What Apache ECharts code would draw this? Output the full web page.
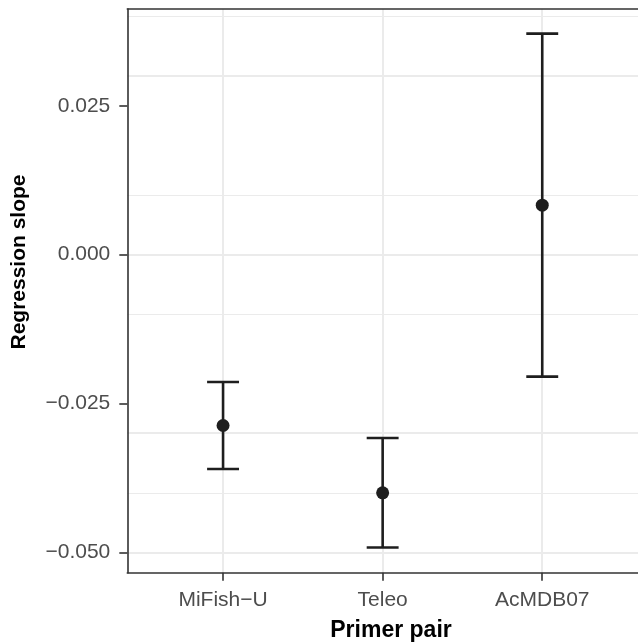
<!DOCTYPE html>
<html><head><meta charset="utf-8">
<script src="https://cdn.jsdelivr.net/npm/echarts@6/dist/echarts.min.js"></script>
<style>html,body{margin:0;padding:0;background:#fff}#c{width:638px;height:644px}</style>
</head><body><div id="c"></div>
<script>
// ---- data ----
const categories = ['MiFish\u2212U', 'Teleo', 'AcMDB07'];
const xPositions = [1, 2, 3];
const estimate = [-0.0287, -0.0400, 0.0083];
const lower = [-0.0360, -0.0492, -0.0205];
const upper = [-0.0214, -0.0308, 0.0371];
const yTicks = [-0.05, -0.025, 0, 0.025];
const yMinor = [-0.0375, -0.0125, 0.0125, 0.0375];
const yRange = [-0.05342, 0.04124];
const xRange = [0.4, 3.6];
const xTitle = 'Primer pair';
const yTitle = 'Regression slope';

const FONT = "'Liberation Sans', Arial, Helvetica, sans-serif";
const chart = echarts.init(document.getElementById('c'), null, {renderer: 'canvas'});

const fmtY = v => {
  const s = Math.abs(v).toFixed(3);
  return (v < -1e-9 ? '\u2212' : '') + s;
};
const fmtX = v => {
  const i = xPositions.indexOf(Math.round(v));
  return i >= 0 ? categories[i] : '';
};

const errData = xPositions.map((x, i) => [x, lower[i], upper[i]]);
const ptData = xPositions.map((x, i) => [x, estimate[i]]);

const gridLines = [].concat(
  xPositions.map(v => ({xAxis: v, lineStyle: {width: 2}})),
  yTicks.map(v => ({yAxis: v, lineStyle: {width: 2}})),
  yMinor.map(v => ({yAxis: v, lineStyle: {width: 1}}))
);

chart.setOption({
  animation: false,
  backgroundColor: '#ffffff',
  grid: {left: 127.3, top: 9, width: 515.7, height: 563.7, containLabel: false},
  xAxis: [{
    type: 'value', min: xRange[0], max: xRange[1], position: 'bottom', z: 5,
    axisLine: {show: true, onZero: false, lineStyle: {color: '#333333', width: 1.6}},
    axisTick: {show: true, length: 8, customValues: xPositions, lineStyle: {color: '#333333', width: 1.6}},
    axisLabel: {show: true, customValues: xPositions, formatter: fmtX, margin: 17,
      color: '#4D4D4D', fontSize: 21, fontFamily: FONT},
    splitLine: {show: false}
  }, {
    type: 'value', min: xRange[0], max: xRange[1], position: 'top', z: 5,
    axisLine: {show: true, onZero: false, lineStyle: {color: '#333333', width: 1.6}},
    axisTick: {show: false}, axisLabel: {show: false}, splitLine: {show: false}
  }],
  yAxis: {
    type: 'value', min: yRange[0], max: yRange[1], z: 5,
    axisLine: {show: true, onZero: false, lineStyle: {color: '#333333', width: 1.6}},
    axisTick: {show: true, length: 8, customValues: yTicks, lineStyle: {color: '#333333', width: 1.6}},
    axisLabel: {show: true, customValues: yTicks, formatter: fmtY, margin: 17,
      color: '#4D4D4D', fontSize: 21, fontFamily: FONT},
    splitLine: {show: false}
  },
  graphic: [
    {type: 'text', x: 391, y: 631, z: 10,
      style: {text: xTitle, font: 'bold 23px ' + FONT, fill: '#000000', textAlign: 'center', textVerticalAlign: 'middle'}},
    {type: 'text', x: 19, y: 262, rotation: Math.PI / 2, z: 10,
      style: {text: yTitle, font: 'bold 21px ' + FONT, fill: '#000000', textAlign: 'center', textVerticalAlign: 'middle'}}
  ],
  series: [
    {
      type: 'line', data: [], z: 1, silent: true,
      markLine: {
        silent: true, symbol: ['none', 'none'], animation: false, z: 1,
        label: {show: false},
        lineStyle: {color: '#EBEBEB', type: 'solid', width: 2},
        emphasis: {disabled: true},
        data: gridLines
      }
    },
    {
      type: 'custom', z: 3, silent: true,
      data: errData,
      renderItem: (params, api) => {
        const x = api.value(0), lo = api.value(1), hi = api.value(2);
        const pLo = api.coord([x, lo]);
        const pHi = api.coord([x, hi]);
        const hw = api.size([0.2, 0])[0] / 2;
        const st = {stroke: '#1E1E1E', lineWidth: 2.6, fill: null};
        return {
          type: 'group',
          children: [
            {type: 'line', shape: {x1: pLo[0], y1: pLo[1], x2: pHi[0], y2: pHi[1]}, style: st},
            {type: 'line', shape: {x1: pHi[0] - hw, y1: pHi[1], x2: pHi[0] + hw, y2: pHi[1]}, style: st},
            {type: 'line', shape: {x1: pLo[0] - hw, y1: pLo[1], x2: pLo[0] + hw, y2: pLo[1]}, style: st}
          ]
        };
      }
    },
    {
      type: 'scatter', z: 4, silent: true,
      data: ptData, symbol: 'circle', symbolSize: 13,
      itemStyle: {color: '#1E1E1E', opacity: 1}
    }
  ]
});
</script>
</body></html>
